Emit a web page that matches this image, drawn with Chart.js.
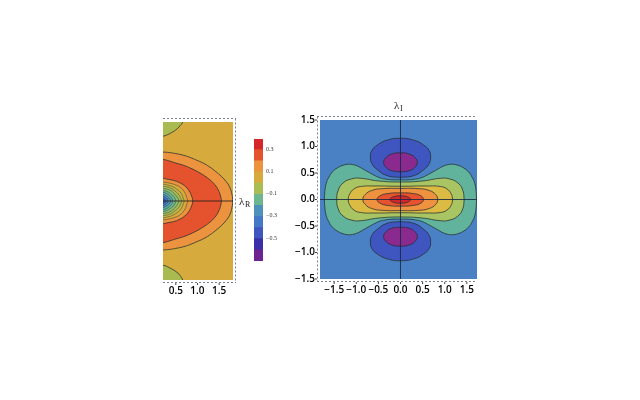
<!DOCTYPE html>
<html>
<head>
    <meta charset="UTF-8">
    <script src="https://cdnjs.cloudflare.com/ajax/libs/Chart.js/4.4.1/chart.umd.min.js"></script>
    <style>
        body { margin: 0; background: white; }
        canvas { position: absolute; filter: blur(0.35px); }
    </style>
</head>
<body>
    <canvas id="leftChart" style="left:130px;top:100px" width="130" height="210"></canvas>
    <canvas id="barChart" style="left:240px;top:130px" width="50" height="140"></canvas>
    <canvas id="rightChart" style="left:285px;top:95px" width="205" height="215"></canvas>

    <script>
        // right panel: outlines, quarter x>=0 y>=0
        const rightLobeOuter = [[0.68, 0.8], [0.65, 0.92], [0.52, 1.03], [0.3, 1.12], [0, 1.155]];
        const rightLobeOuterLow = [[0, 0.415], [0.3, 0.45], [0.52, 0.56], [0.65, 0.68], [0.68, 0.8]];
        const rightLobeInner = [[0.38, 0.7], [0.35, 0.77], [0.22, 0.85], [0, 0.88]];
        const rightLobeInnerLow = [[0, 0.52], [0.22, 0.55], [0.35, 0.63], [0.38, 0.7]];
        const rightLevel1 = [[1.72, 0], [1.71, 0.15], [1.68, 0.3], [1.62, 0.42], [1.54, 0.52], [1.42, 0.6], [1.28, 0.65], [1.18, 0.665], [1.09, 0.66], [0.97, 0.63], [0.86, 0.58], [0.73, 0.52], [0.6, 0.46], [0.47, 0.41], [0.34, 0.385], [0.17, 0.37], [0, 0.37]];
        const rightLevel2 = [[1.44, 0], [1.41, 0.17], [1.3, 0.31], [1.1, 0.39], [0.9, 0.4], [0.5, 0.35], [0, 0.33]];
        const rightLevel3 = [[1.18, 0], [1.15, 0.1], [1.05, 0.2], [0.9, 0.245], [0.6, 0.255], [0, 0.25]];
        const rightLevel4 = [[0.85, 0], [0.8, 0.09], [0.65, 0.17], [0.4, 0.205], [0, 0.21]];
        const rightLevel5 = [[0.53, 0], [0.47, 0.065], [0.3, 0.11], [0, 0.125]];
        const rightLevel6 = [[0.24, 0], [0.18, 0.045], [0, 0.07]];
        const rightLevels = [rightLevel1, rightLevel2, rightLevel3, rightLevel4, rightLevel5, rightLevel6];
        const rightColors = ['#62b39c', '#a9c462', '#dcbb45', '#ee9240', '#e6532e', '#d4262b'];
        const rightXTicks = [-1.5, -1, -0.5, 0, 0.5, 1, 1.5];
        const rightYTicks = [-1.5, -1, -0.5, 0, 0.5, 1, 1.5];

        // left panel: upper half of each outline, from the axis to past the left edge
        const leftLevels = [
            [[1.81, 0], [1.8, 0.11], [1.74, 0.27], [1.66, 0.37], [1.56, 0.46], [1.42, 0.56], [1.275, 0.65], [1.13, 0.72], [0.98, 0.775], [0.82, 0.83], [0.67, 0.87], [0.5, 0.9], [0.35, 0.92], [0.205, 0.93], [0.05, 0.94]],
            [[1.55, 0], [1.53, 0.1], [1.48, 0.21], [1.4, 0.31], [1.29, 0.4], [1.16, 0.48], [1.02, 0.55], [0.85, 0.62], [0.67, 0.68], [0.5, 0.72], [0.35, 0.76], [0.205, 0.79], [0.05, 0.8]],
            [[0.89, 0], [0.87, 0.08], [0.8, 0.2], [0.7, 0.29], [0.58, 0.35], [0.45, 0.39], [0.33, 0.41], [0.205, 0.43], [0.05, 0.44]],
            [[0.77, 0], [0.75, 0.07], [0.7, 0.17], [0.6, 0.26], [0.48, 0.31], [0.35, 0.34], [0.205, 0.36], [0.05, 0.37]],
            [[0.69, 0], [0.67, 0.06], [0.62, 0.15], [0.53, 0.22], [0.43, 0.27], [0.32, 0.3], [0.205, 0.32], [0.05, 0.33]],
            [[0.63, 0], [0.61, 0.06], [0.56, 0.13], [0.48, 0.19], [0.39, 0.24], [0.3, 0.265], [0.205, 0.28], [0.05, 0.29]],
            [[0.57, 0], [0.55, 0.05], [0.5, 0.11], [0.43, 0.17], [0.35, 0.21], [0.27, 0.23], [0.205, 0.24], [0.05, 0.25]],
            [[0.5, 0], [0.48, 0.05], [0.44, 0.1], [0.38, 0.14], [0.31, 0.175], [0.205, 0.2], [0.05, 0.21]],
            [[0.43, 0], [0.41, 0.05], [0.38, 0.085], [0.33, 0.12], [0.27, 0.15], [0.205, 0.165], [0.05, 0.17]],
            [[0.38, 0], [0.36, 0.04], [0.33, 0.07], [0.28, 0.1], [0.205, 0.125], [0.05, 0.13]],
            [[0.32, 0], [0.3, 0.04], [0.26, 0.07], [0.205, 0.09], [0.05, 0.1]],
            [[0.27, 0], [0.25, 0.03], [0.205, 0.05], [0.05, 0.06]]
        ];
        const leftColors = ['#ec9340', '#e4532e', '#ec9340', '#d6aa3c', '#c6b648', '#a9bd55', '#8cbc70', '#6eb68f', '#5aa9a6', '#4e92bc', '#4678c8', '#3f55c0'];
        const leftCornerTop = [[0.05, 1.22], [0.205, 1.23], [0.36, 1.28], [0.5, 1.35], [0.6, 1.43], [0.66, 1.5], [0.7, 1.6], [0.05, 1.6]];
        const leftCornerLow = [[0.05, -1.21], [0.205, -1.22], [0.36, -1.27], [0.55, -1.37], [0.62, -1.44], [0.66, -1.5], [0.7, -1.6], [0.05, -1.6]];
        const leftXTicks = [0.5, 1, 1.5];

        // colour bar
        const barLow = [0.3, 0.2, 0.1, 0, -0.1, -0.2, -0.3, -0.4, -0.5, -0.6];
        const barHigh = [0.39, 0.3, 0.2, 0.1, 0, -0.1, -0.2, -0.3, -0.4, -0.5];
        const barColors = ['#d4262b', '#e4532e', '#ec9340', '#d6aa3c', '#a9bd55', '#6eb68f', '#4e92bc', '#4678c8', '#3f55c0', '#3a2fa8'];
        const barBottomLow = [-0.706];
        const barBottomHigh = [-0.6];
        const barBottomColor = '#6d2390';
        const barTicks = [-0.5, -0.3, -0.1, 0.1, 0.3];

        const LINE = 'rgba(35,45,45,0.75)';

        function toPoints(list) {
            return list.map(p => ({ x: p[0], y: p[1] }));
        }
        function closedQuarter(q) {
            const back = q.slice(0, -1).reverse();
            const pts = q.concat(back.map(p => [-p[0], p[1]]));
            const lower = pts.slice(0, -1).reverse().map(p => [p[0], -p[1]]);
            return toPoints(pts.concat(lower));
        }
        function closedHalf(h) {
            const lower = h.slice(1).map(p => [p[0], -p[1]]);
            return toPoints(lower.slice().reverse().concat(h).concat([lower[lower.length - 1]]));
        }
        function lobe(high, low, sign) {
            const side = low.concat(high.slice(1));
            const other = side.slice(0, -1).reverse().map(p => [-p[0], p[1]]);
            return toPoints(side.concat(other).map(p => [p[0], sign * p[1]]));
        }
        function area(data, color, i, width) {
            return { data: data, showLine: true, fill: 'shape', backgroundColor: color, borderColor: LINE, borderWidth: width || 1, pointRadius: 0, tension: 0.5, order: -i };
        }
        function flat(data, color, i) {
            return { data: data, showLine: true, fill: 'shape', backgroundColor: color, borderWidth: 0, pointRadius: 0, tension: 0, order: -i };
        }
        function rule(data, i, color) {
            return { data: data, showLine: true, fill: false, borderColor: color, borderWidth: 1, pointRadius: 0, order: -i };
        }
        function minusText(v) {
            return v.toFixed(1).replace('-', '\u2212');
        }

        // dotted frame that sits a little outside the coloured area, and the text labels
        const framePlugin = {
            id: 'frame',
            afterDraw(chart, args, opts) {
                const c = chart.ctx, a = chart.chartArea, g = 3;
                const top = a.top - 4 + 0.5, bottom = a.bottom + g - 0.5;
                c.save();
                c.strokeStyle = '#79828a';
                c.lineWidth = 1;
                c.setLineDash([2, 2]);
                c.beginPath();
                if (opts.top) { c.moveTo(a.left - (opts.left ? g : 0), top); c.lineTo(a.right + (opts.right ? g : 0), top); }
                if (opts.bottom) { c.moveTo(a.left - (opts.left ? g : 0), bottom); c.lineTo(a.right + (opts.right ? g : 0), bottom); }
                if (opts.left) { c.moveTo(a.left - g + 0.5, top); c.lineTo(a.left - g + 0.5, bottom); }
                if (opts.right) { c.moveTo(a.right + g - 0.5, top); c.lineTo(a.right + g - 0.5, bottom); }
                c.stroke();
                c.setLineDash([]);
                c.strokeStyle = '#444';
                c.beginPath();
                chart.scales.x.ticks.forEach(t => {
                    const px = chart.scales.x.getPixelForValue(t.value);
                    c.moveTo(px, a.bottom + g); c.lineTo(px, a.bottom + g + 2);
                });
                if (opts.left) chart.scales.y.ticks.forEach(t => {
                    const py = chart.scales.y.getPixelForValue(t.value);
                    c.moveTo(a.left - g, py); c.lineTo(a.left - g - 2, py);
                });
                c.stroke();
                c.fillStyle = '#222';
                c.textBaseline = 'alphabetic';
                (opts.labels || []).forEach(l => {
                    c.font = '11px "Liberation Serif"';
                    c.fillText('\u03BB', l.x, l.y);
                    c.font = '8px "Liberation Serif"';
                    c.fillText(l.sub, l.x + 6, l.y + 2);
                });
                c.restore();
            }
        };

        function axis(min, max, ticks, size, showLabels, pad) {
            return {
                type: 'linear', min: min, max: max,
                grid: { display: false, drawTicks: false }, border: { display: false },
                afterBuildTicks: s => { s.ticks = ticks.map(v => ({ value: v })); },
                afterFit: s => { if (s.isHorizontal()) s.height = size; else s.width = size; },
                ticks: {
                    display: showLabels, autoSkip: false, maxRotation: 0, padding: pad,
                    color: '#000', font: { family: 'Open Sans', size: 10, weight: '600' },
                    callback: v => minusText(v)
                }
            };
        }

        // left panel
        const leftSets = [];
        leftSets.push(flat(toPoints([[0, -2], [2, -2], [2, 2], [0, 2], [0, -2]]), '#d6aa3c', 0));
        leftSets.push(area(toPoints(leftCornerTop), '#a9bb50', 1));
        leftSets.push(area(toPoints(leftCornerLow), '#a9bb50', 2));
        leftLevels.forEach((lv, i) => leftSets.push(area(closedHalf(lv), leftColors[i], i + 3, i > 2 ? 0.6 : 1)));
        leftSets.push(rule([{ x: 0.205, y: 0 }, { x: 1.82, y: 0 }], 30, 'rgba(35,30,30,0.85)'));

        new Chart(document.getElementById('leftChart'), {
            type: 'scatter',
            data: { datasets: leftSets },
            plugins: [framePlugin],
            options: {
                responsive: false, animation: false, events: [],
                layout: { padding: { left: 0, right: 27, top: 22, bottom: 0 } },
                plugins: {
                    legend: { display: false }, tooltip: { enabled: false },
                    frame: { top: true, bottom: true, right: true, labels: [{ x: 109, y: 105, sub: 'R' }] }
                },
                scales: {
                    x: axis(0.205, 1.82, leftXTicks, 30, true, 5),
                    y: axis(-1.5, 1.5, [], 33, false, 5)
                }
            }
        });

        // colour bar
        const barSets = barLow.map((lo, i) => ({ data: [[lo, barHigh[i]]], backgroundColor: barColors[i], grouped: false, barPercentage: 1, categoryPercentage: 1 }));
        barSets.push({ data: [[barBottomLow[0], barBottomHigh[0]]], backgroundColor: barBottomColor, grouped: false, barPercentage: 1, categoryPercentage: 1 });
        new Chart(document.getElementById('barChart'), {
            type: 'bar',
            data: { labels: [''], datasets: barSets },
            options: {
                responsive: false, animation: false, events: [],
                layout: { padding: { left: 14, right: 0, top: 9, bottom: 9 } },
                plugins: { legend: { display: false }, tooltip: { enabled: false } },
                scales: {
                    x: { display: false },
                    y: {
                        position: 'right', min: -0.706, max: 0.39,
                        grid: { display: false, drawTicks: false }, border: { display: false },
                        afterBuildTicks: s => { s.ticks = barTicks.map(v => ({ value: v })); },
                        afterFit: s => { s.width = 27; },
                        ticks: {
                            autoSkip: false, padding: 3, color: '#333',
                            font: { family: 'Liberation Serif', size: 6 },
                            callback: v => minusText(v)
                        }
                    }
                }
            }
        });

        // right panel
        const rightSets = [];
        rightSets.push(flat(toPoints([[-2, -2], [2, -2], [2, 2], [-2, 2], [-2, -2]]), '#4a80c4', 0));
        rightSets.push(area(lobe(rightLobeOuter, rightLobeOuterLow, 1), '#3f55c0', 1));
        rightSets.push(area(lobe(rightLobeOuter, rightLobeOuterLow, -1), '#3f55c0', 2));
        rightSets.push(area(lobe(rightLobeInner, rightLobeInnerLow, 1), '#8b2a8e', 3));
        rightSets.push(area(lobe(rightLobeInner, rightLobeInnerLow, -1), '#8b2a8e', 4));
        rightLevels.forEach((lv, i) => rightSets.push(area(closedQuarter(lv), rightColors[i], i + 5)));
        rightSets.push(rule([{ x: -1.82, y: 0 }, { x: 1.73, y: 0 }], 30, 'rgba(20,40,70,0.85)'));
        rightSets.push(rule([{ x: 0, y: -1.5 }, { x: 0, y: 1.5 }], 31, 'rgba(20,40,70,0.85)'));

        new Chart(document.getElementById('rightChart'), {
            type: 'scatter',
            data: { datasets: rightSets },
            plugins: [framePlugin],
            options: {
                responsive: false, animation: false, events: [],
                layout: { padding: { left: 0, right: 13, top: 25, bottom: 0 } },
                plugins: {
                    legend: { display: false }, tooltip: { enabled: false },
                    frame: { top: true, bottom: true, left: true, labels: [{ x: 109, y: 14, sub: 'I' }] }
                },
                scales: {
                    x: axis(-1.82, 1.73, rightXTicks, 31, true, 5),
                    y: axis(-1.5, 1.5, rightYTicks, 35, true, 5)
                }
            }
        });
    </script>
</body>
</html>
